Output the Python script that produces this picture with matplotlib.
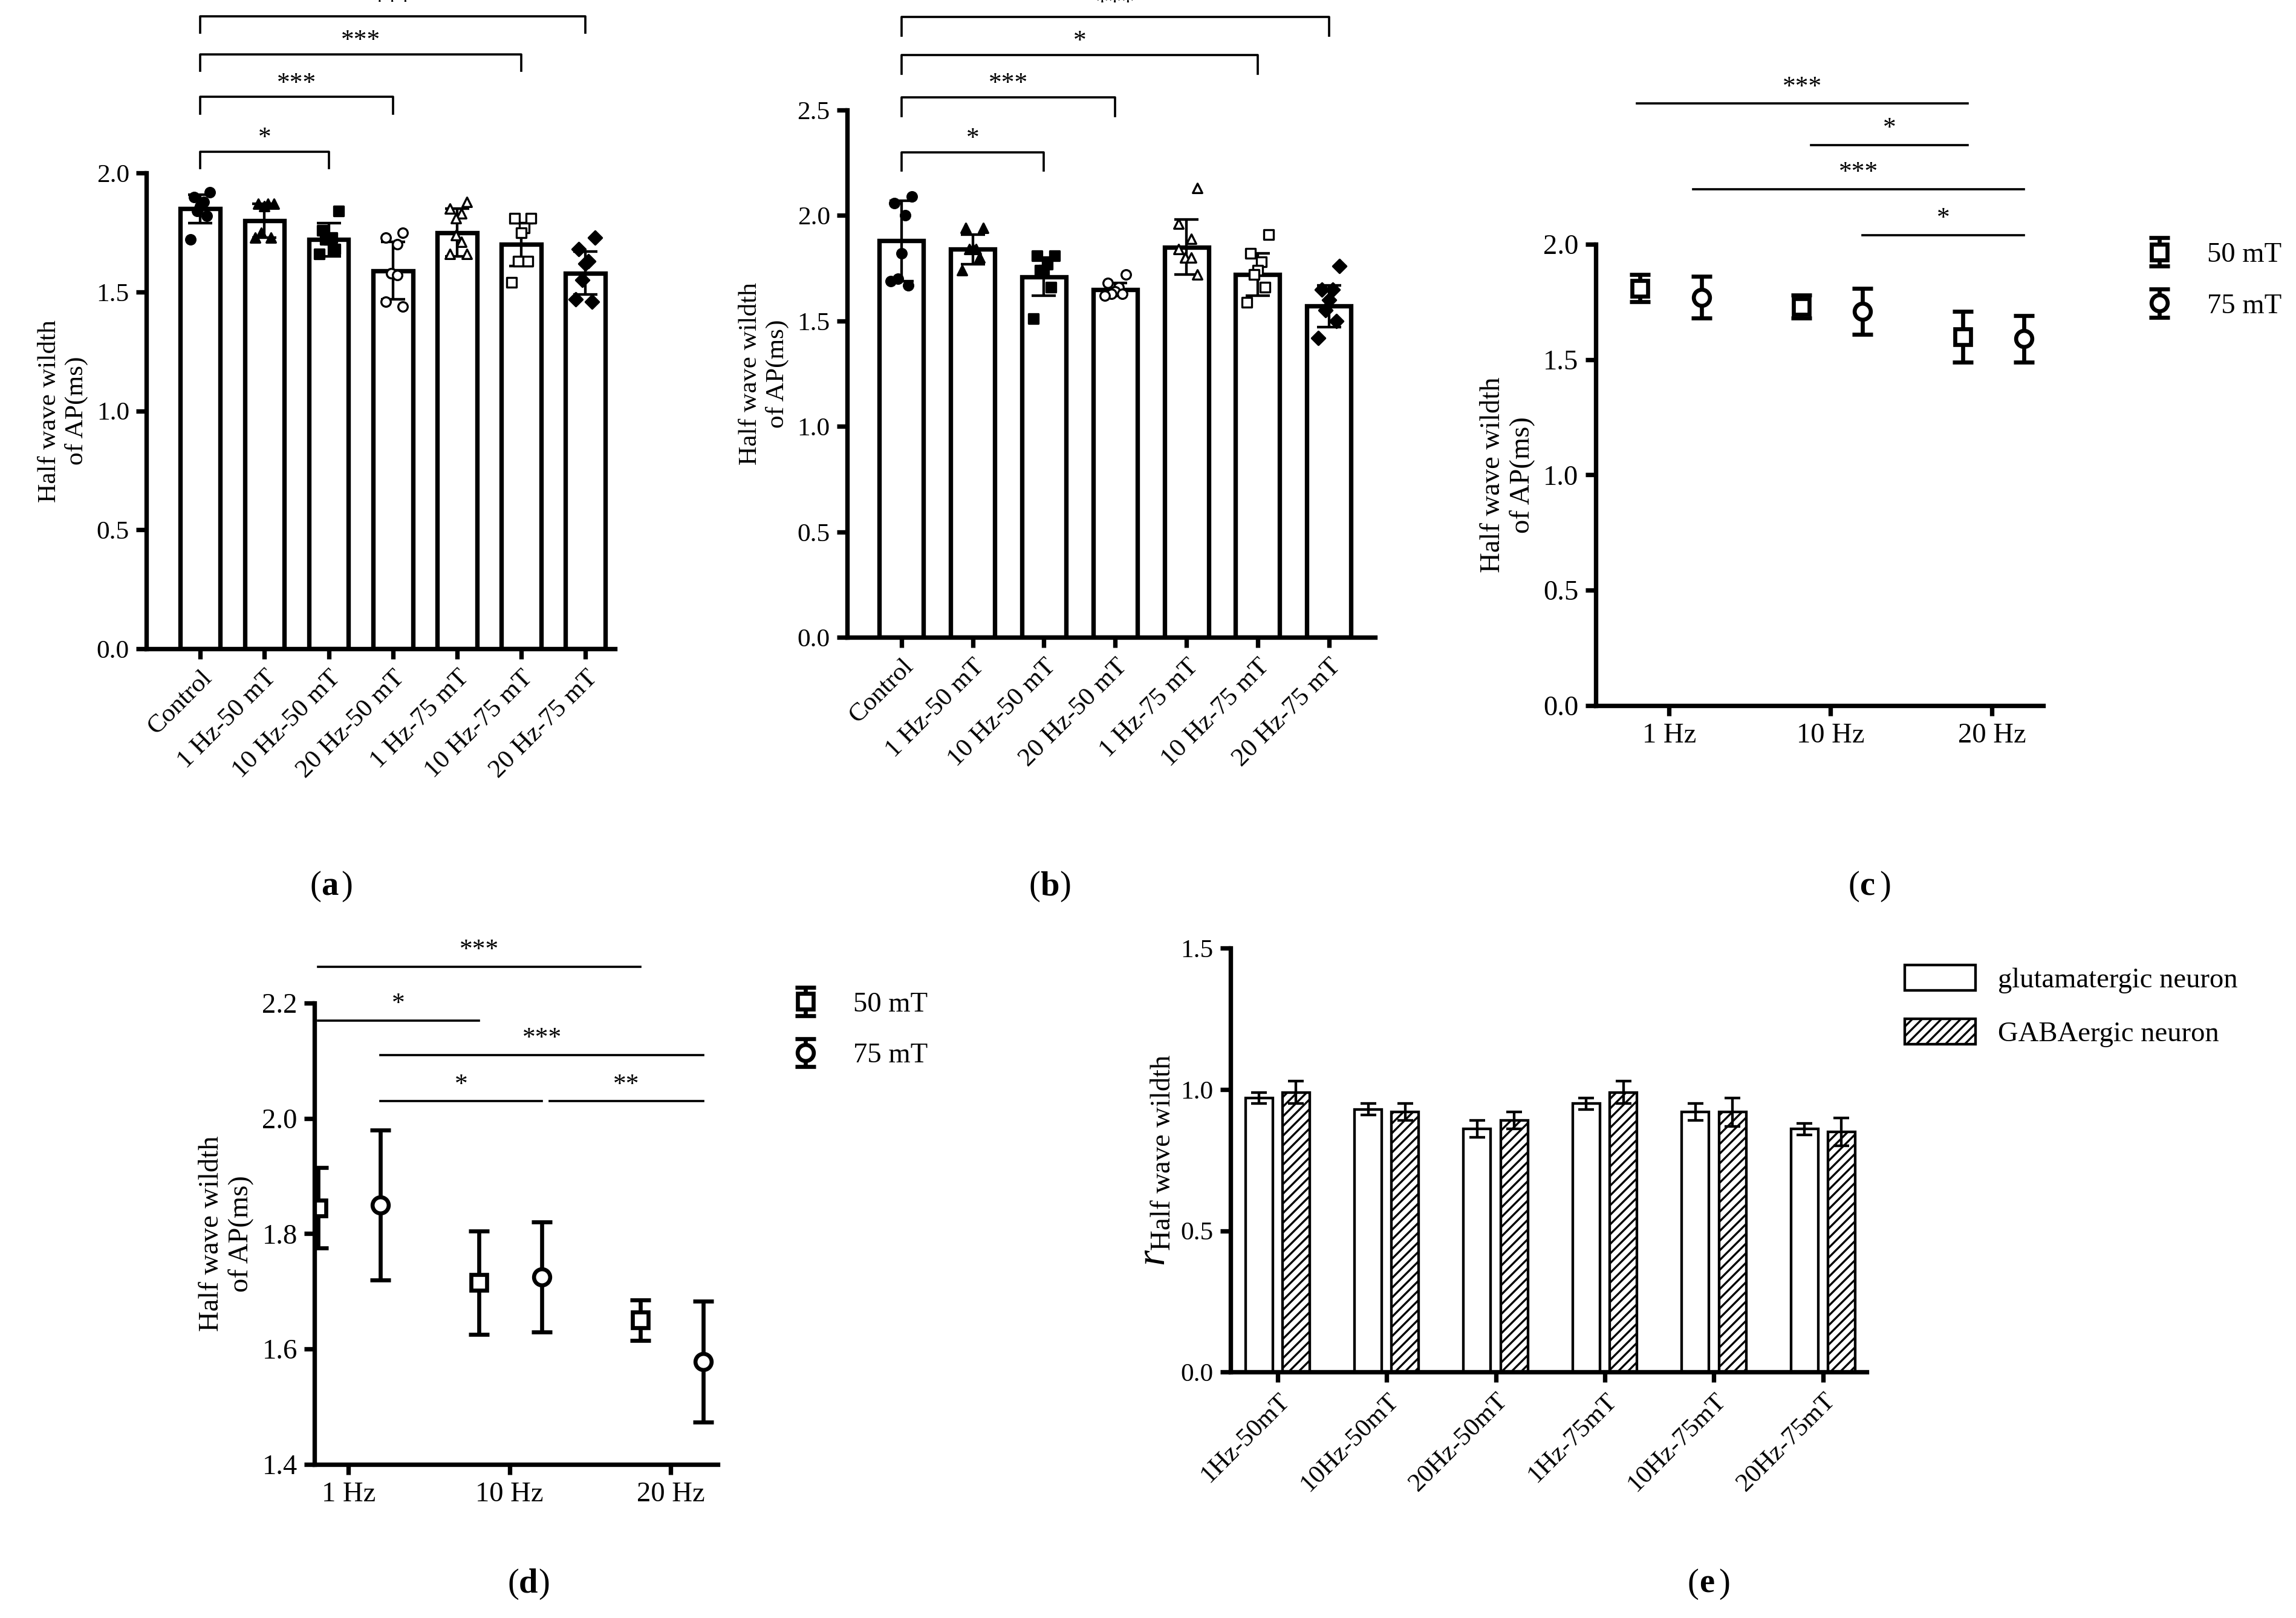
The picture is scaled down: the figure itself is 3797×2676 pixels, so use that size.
import matplotlib
matplotlib.use('Agg')
import matplotlib.pyplot as plt
import numpy as np

plt.rcParams['font.family'] = ['Liberation Serif', 'DejaVu Serif']
plt.rcParams['mathtext.fontset'] = 'custom'
plt.rcParams['mathtext.rm'] = 'Liberation Serif'
plt.rcParams['mathtext.it'] = 'Liberation Serif:italic'
plt.rcParams['font.size'] = 13

# ---- data ----
groups = ['Control', '1 Hz-50 mT', '10 Hz-50 mT', '20 Hz-50 mT',
          '1 Hz-75 mT', '10 Hz-75 mT', '20 Hz-75 mT']
markers_ab = ['o', '^', 's', 'o', '^', 's', 'D']
filled_ab = [True, True, True, False, False, False, True]

a_mean = [1.85, 1.80, 1.72, 1.59, 1.75, 1.70, 1.58]
a_sd = [0.06, 0.07, 0.07, 0.12, 0.10, 0.09, 0.09]
a_pts = [[1.92, 1.90, 1.88, 1.86, 1.84, 1.82, 1.72],
         [1.87, 1.87, 1.87, 1.86, 1.75, 1.73, 1.73],
         [1.84, 1.76, 1.73, 1.72, 1.72, 1.68, 1.66],
         [1.75, 1.73, 1.70, 1.58, 1.58, 1.57, 1.46, 1.44],
         [1.88, 1.85, 1.83, 1.81, 1.74, 1.71, 1.66, 1.66],
         [1.81, 1.81, 1.77, 1.75, 1.63, 1.63, 1.54],
         [1.73, 1.68, 1.63, 1.62, 1.55, 1.46, 1.47]]
b_mean = [1.88, 1.84, 1.71, 1.65, 1.85, 1.72, 1.57]
b_sd = [0.19, 0.07, 0.09, 0.03, 0.13, 0.10, 0.10]
b_pts = [[2.09, 2.06, 2.00, 1.82, 1.70, 1.67, 1.69],
         [1.94, 1.94, 1.84, 1.84, 1.84, 1.80, 1.74],
         [1.81, 1.81, 1.77, 1.74, 1.74, 1.66, 1.51],
         [1.72, 1.68, 1.66, 1.64, 1.63, 1.63, 1.62],
         [2.13, 1.96, 1.89, 1.80, 1.80, 1.80, 1.84, 1.72],
         [1.91, 1.82, 1.78, 1.74, 1.72, 1.66, 1.59],
         [1.76, 1.65, 1.65, 1.60, 1.55, 1.50, 1.42]]

freqs = ['1 Hz', '10 Hz', '20 Hz']
c_50 = [1.81, 1.73, 1.60]
c_50_sd = [0.06, 0.05, 0.11]
c_75 = [1.77, 1.71, 1.59]
c_75_sd = [0.09, 0.10, 0.10]
d_50 = [1.845, 1.715, 1.650]
d_50_sd = [0.07, 0.09, 0.035]
d_75 = [1.850, 1.725, 1.578]
d_75_sd = [0.13, 0.095, 0.105]

e_labels = ['1Hz-50mT', '10Hz-50mT', '20Hz-50mT', '1Hz-75mT', '10Hz-75mT', '20Hz-75mT']
e_glu = [0.97, 0.93, 0.86, 0.95, 0.92, 0.86]
e_glu_err = [0.02, 0.02, 0.03, 0.02, 0.03, 0.02]
e_gaba = [0.99, 0.92, 0.89, 0.99, 0.92, 0.85]
e_gaba_err = [0.04, 0.03, 0.03, 0.04, 0.05, 0.05]

LW = 2.2

fig = plt.figure(figsize=(3797 / 240, 2676 / 240), dpi=240)


def style(ax):
    for s in ['top', 'right']:
        ax.spines[s].set_visible(False)
    for s in ['left', 'bottom']:
        ax.spines[s].set_linewidth(LW)
    ax.tick_params(width=LW, length=5, labelsize=13)


def bar_panel(ax, mean, sd, pts, ylim, yticks, xlim, brackets):
    x = np.arange(len(mean))
    ax.bar(x, mean, width=0.62, color='white', edgecolor='black', linewidth=LW, zorder=1)
    ax.errorbar(x, mean, yerr=sd, fmt='none', ecolor='black', elinewidth=1.3,
                capsize=6, capthick=1.3, zorder=3)
    for i, p in enumerate(pts):
        n = len(p)
        offs = np.linspace(-0.25, 0.25, n) * (np.arange(n) % 2 * 2 - 1) * 0.6
        ax.scatter(i + offs, p, marker=markers_ab[i], s=22,
                   facecolor='black' if filled_ab[i] else 'white',
                   edgecolor='black', linewidth=1, zorder=4)
    ax.set_ylim(*ylim)
    ax.set_yticks(yticks)
    ax.set_yticklabels(['%.1f' % t for t in yticks])
    ax.set_xlim(*xlim)
    ax.set_xticks(x)
    ax.set_xticklabels(groups, rotation=45, ha='right', rotation_mode='anchor', fontsize=13)
    ax.set_ylabel('Half wave wildth\nof AP(ms)', fontsize=13)
    for j, lvl, txt in brackets:
        h = (ylim[1] - ylim[0]) * 0.035
        ax.plot([0, 0, j, j], [lvl - h, lvl, lvl, lvl - h], color='black', lw=1.1, clip_on=False)
        ax.text(j / 2, lvl + h * 0.1, txt, ha='center', va='bottom', fontsize=13, clip_on=False)
    style(ax)


ax_a = fig.add_axes([0.0638, 0.599, 0.204, 0.294])
bar_panel(ax_a, a_mean, a_sd, a_pts, (0, 2.0), [0, 0.5, 1.0, 1.5, 2.0], (-0.84, 6.46),
          [(2, 2.09, '*'), (3, 2.32, '***'), (5, 2.50, '***'), (6, 2.66, '***')])
ax_b = fig.add_axes([0.369, 0.606, 0.230, 0.326])
bar_panel(ax_b, b_mean, b_sd, b_pts, (0, 2.5), [0, 0.5, 1.0, 1.5, 2.0, 2.5], (-0.76, 6.65),
          [(2, 2.30, '*'), (3, 2.56, '***'), (5, 2.76, '*'), (6, 2.94, '***')])


def point_panel(ax, m50, s50, m75, s75, ylim, yticks, xlim, off50, off75, lines):
    x = np.arange(1, 4)
    ax.errorbar(x + off50, m50, yerr=s50, fmt='s', ms=8, mfc='white', mec='black', mew=2,
                ecolor='black', elinewidth=2, capsize=5, capthick=2, label='50 mT')
    ax.errorbar(x + off75, m75, yerr=s75, fmt='o', ms=8, mfc='white', mec='black', mew=2,
                ecolor='black', elinewidth=2, capsize=5, capthick=2, label='75 mT')
    ax.set_ylim(*ylim)
    ax.set_yticks(yticks)
    ax.set_yticklabels(['%.1f' % t for t in yticks])
    ax.set_xlim(*xlim)
    ax.set_xticks(x)
    ax.set_xticklabels(freqs)
    ax.set_ylabel('Half wave wildth\nof AP(ms)', fontsize=14)
    for x0, x1, lvl, txt in lines:
        ax.plot([x0, x1], [lvl, lvl], color='black', lw=1.1, clip_on=False)
        ax.text((x0 + x1) / 2, lvl + (ylim[1] - ylim[0]) * 0.01, txt, ha='center',
                va='bottom', fontsize=13, clip_on=False)
    style(ax)
    ax.tick_params(labelsize=14)


ax_c = fig.add_axes([0.695, 0.564, 0.195, 0.285])
point_panel(ax_c, c_50, c_50_sd, c_75, c_75_sd, (0, 2.0), [0, 0.5, 1.0, 1.5, 2.0],
            (0.545, 3.32), -0.18, 0.2,
            [(0.8, 2.85, 2.61, '***'), (1.88, 2.85, 2.43, '*'),
             (1.15, 3.2, 2.24, '***'), (2.2, 3.2, 2.04, '*')])
ax_c.legend(loc='upper left', bbox_to_anchor=(1.17, 1.06), frameon=False, fontsize=14,
            handletextpad=1.2, labelspacing=0.9, handlelength=1.0)

ax_d = fig.add_axes([0.137, 0.095, 0.1755, 0.285])
point_panel(ax_d, d_50, d_50_sd, d_75, d_75_sd, (1.4, 2.2), [1.4, 1.6, 1.8, 2.0, 2.2],
            (0.79, 3.29), -0.19, 0.2,
            [(0.81, 2.81, 2.263, '***'), (0.81, 1.81, 2.17, '*'),
             (1.2, 3.2, 2.11, '***'), (1.2, 2.2, 2.03, '*'), (2.25, 3.2, 2.03, '**')])
ax_d.legend(loc='upper left', bbox_to_anchor=(1.12, 1.08), frameon=False, fontsize=14,
            handletextpad=1.2, labelspacing=0.9, handlelength=1.0)

ax_e = fig.add_axes([0.536, 0.152, 0.277, 0.262])
xe = np.arange(len(e_labels))
ax_e.bar(xe - 0.17, e_glu, width=0.25, yerr=e_glu_err, color='white', edgecolor='black',
         linewidth=1.3, capsize=4, error_kw=dict(elinewidth=1.3, capthick=1.3),
         label='glutamatergic neuron')
plt.rcParams['hatch.linewidth'] = 1.0
ax_e.bar(xe + 0.17, e_gaba, width=0.25, yerr=e_gaba_err, color='white', edgecolor='black',
         hatch='/////', linewidth=1.3, capsize=4, error_kw=dict(elinewidth=1.3, capthick=1.3),
         label='GABAergic neuron')
ax_e.set_ylim(0, 1.5)
ax_e.set_yticks([0, 0.5, 1.0, 1.5])
ax_e.set_yticklabels(['0.0', '0.5', '1.0', '1.5'])
ax_e.set_xlim(-0.43, 5.4)
ax_e.set_xticks(xe)
ax_e.set_xticklabels(e_labels, rotation=45, ha='right', rotation_mode='anchor', fontsize=12)
ax_e.set_ylabel(r'$r_{\mathrm{Half\ wave\ wildth}}$', fontsize=20)
style(ax_e)
ax_e.legend(loc='upper left', bbox_to_anchor=(1.02, 1.02), frameon=False, fontsize=14,
            handlelength=2.5, handleheight=1.0, labelspacing=0.9)

for txt, xx, yy in [('a', 0.14, 0.452), ('b', 0.453, 0.452), ('c', 0.81, 0.452),
                    ('d', 0.226, 0.021), ('e', 0.74, 0.021)]:
    fig.text(xx, yy, '(', ha='right', va='center', fontsize=17)
    fig.text(xx, yy, txt, ha='left', va='center', fontsize=17, fontweight='bold')
    fig.text(xx + 0.0085, yy, ')', ha='left', va='center', fontsize=17)

fig.savefig('out.png', dpi=240)
